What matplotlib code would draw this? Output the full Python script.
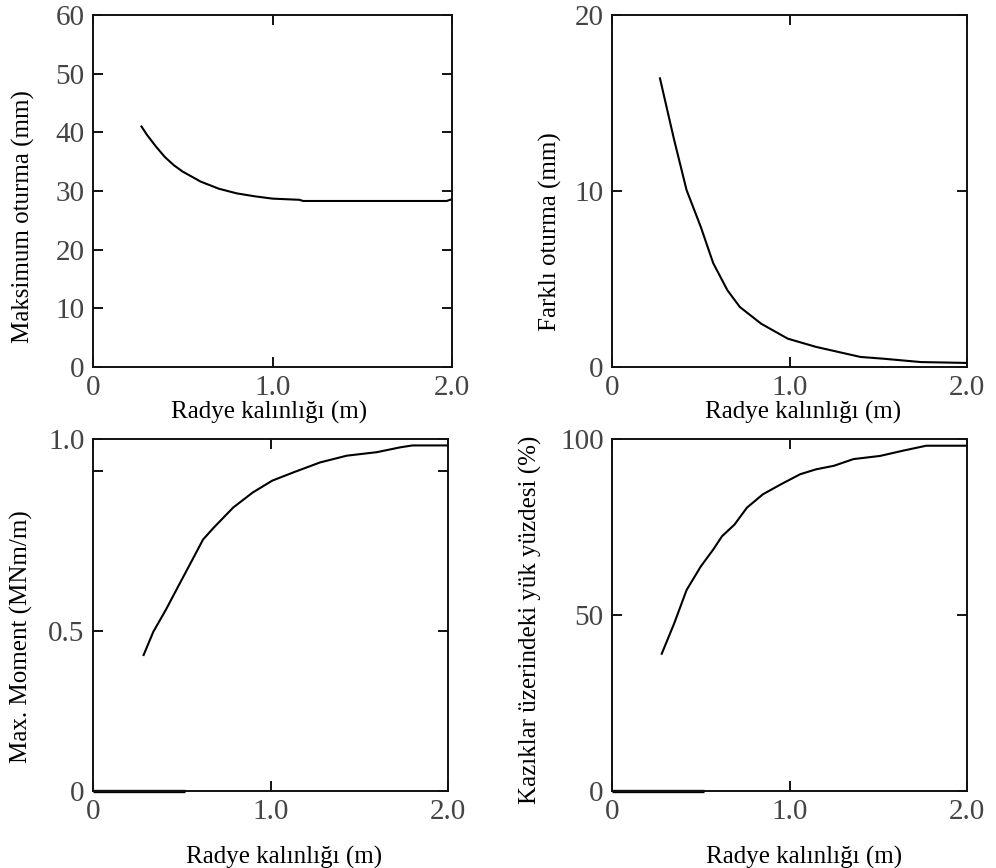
import numpy as np
import matplotlib
matplotlib.use('Agg')
import matplotlib.pyplot as plt

plt.rcParams['font.family'] = ['Liberation Serif', 'DejaVu Serif']

# radye kalinligi (m) vs. results
x_max = [0.27, 0.30, 0.35, 0.40, 0.45, 0.50, 0.60, 0.70, 0.80, 0.90, 1.00, 1.15, 1.17, 1.50, 1.80, 1.97, 2.00]
y_max = [41.0, 39.6, 37.6, 35.8, 34.4, 33.3, 31.6, 30.4, 29.6, 29.1, 28.7, 28.5, 28.3, 28.3, 28.3, 28.3, 28.6]

x_dif = [0.27, 0.35, 0.42, 0.50, 0.57, 0.65, 0.72, 0.84, 0.99, 1.15, 1.40, 1.53, 1.74, 2.00]
y_dif = [16.4, 12.9, 10.05, 7.96, 5.9, 4.36, 3.41, 2.46, 1.61, 1.14, 0.57, 0.47, 0.28, 0.23]

x_mom = [0.285, 0.34, 0.41, 0.49, 0.56, 0.62, 0.68, 0.79, 0.90, 1.01, 1.13, 1.28, 1.43, 1.60, 1.73, 1.80, 2.00]
y_mom = [0.425, 0.498, 0.566, 0.65, 0.723, 0.786, 0.823, 0.886, 0.933, 0.970, 0.996, 1.027, 1.048, 1.059, 1.074, 1.08, 1.08]

x_pct = [0.28, 0.35, 0.42, 0.50, 0.57, 0.62, 0.69, 0.76, 0.85, 0.95, 1.06, 1.15, 1.25, 1.36, 1.51, 1.64, 1.77, 2.00]
y_pct = [39.0, 47.6, 57.1, 63.8, 68.6, 72.4, 75.7, 80.5, 84.3, 87.1, 90.0, 91.4, 92.4, 94.3, 95.2, 96.7, 98.1, 98.1]

base_x = [0.0, 0.52]
base_y = [0.0, 0.0]

xlab = 'Radye kalınlığı (m)'
tick_col = '#444444'
lab_fs = 18
tick_fs = 21

fig = plt.figure(figsize=(9.96, 8.68), dpi=100)
axTL = fig.add_axes([0.0934, 0.5772, 0.3604, 0.4055])
axTR = fig.add_axes([0.6145, 0.5772, 0.3564, 0.4055])
axBL = fig.add_axes([0.0934, 0.0887, 0.3564, 0.4055])
axBR = fig.add_axes([0.6145, 0.0887, 0.3564, 0.4055])

def style(ax):
    ax.set_xlim(0, 2.0)
    ax.set_xticks([0, 1.0, 2.0])
    ax.set_xticklabels(['0', '1.0', '2.0'])
    ax.tick_params(direction='in', top=True, right=True, length=7, width=1.3,
                   labelsize=tick_fs, labelcolor=tick_col, pad=6)
    for s in ax.spines.values():
        s.set_linewidth(1.4)
        s.set_color('#111111')

axTL.plot(x_max, y_max, c='k', lw=1.5)
axTL.set_ylim(0, 60)
axTL.set_yticks(np.arange(0, 61, 10))
style(axTL)
axTL.set_ylabel('Maksimum oturma (mm)', fontsize=lab_fs)
axTL.yaxis.set_label_coords(-0.162, 0.426)
axTL.set_xlabel(xlab, fontsize=lab_fs)
axTL.xaxis.set_label_coords(0.49, -0.095)

axTR.plot(x_dif, y_dif, c='k', lw=1.5)
axTR.set_ylim(0, 20)
axTR.set_yticks([0, 10, 20])
style(axTR)
axTR.set_ylabel('Farklı oturma (mm)', fontsize=lab_fs)
axTR.yaxis.set_label_coords(-0.141, 0.386)
axTR.set_xlabel(xlab, fontsize=lab_fs)
axTR.xaxis.set_label_coords(0.538, -0.095)

axBL.plot(x_mom, y_mom, c='k', lw=1.5)
axBL.plot(base_x, base_y, c='k', lw=2.4, solid_capstyle='butt', clip_on=False)
axBL.set_ylim(0, 1.1)
axBL.set_yticks([0, 0.5, 1.0, 1.1])
style(axBL)
axBL.set_yticklabels(['0', '0.5', '', '1.0'])
axBL.set_ylabel('Max. Moment (MNm/m)', fontsize=lab_fs)
axBL.yaxis.set_label_coords(-0.169, 0.44)
axBL.set_xlabel(xlab, fontsize=lab_fs)
axBL.xaxis.set_label_coords(0.538, -0.155)

axBR.plot(x_pct, y_pct, c='k', lw=1.5)
axBR.plot(base_x, base_y, c='k', lw=2.4, solid_capstyle='butt', clip_on=False)
axBR.set_ylim(0, 100)
axBR.set_yticks([0, 50, 100])
style(axBR)
axBR.set_ylabel('Kazıklar üzerindeki yük yüzdesi (%)', fontsize=lab_fs)
axBR.yaxis.set_label_coords(-0.197, 0.486)
axBR.set_xlabel(xlab, fontsize=lab_fs)
axBR.xaxis.set_label_coords(0.541, -0.155)

fig.savefig('out.png', dpi=100)
